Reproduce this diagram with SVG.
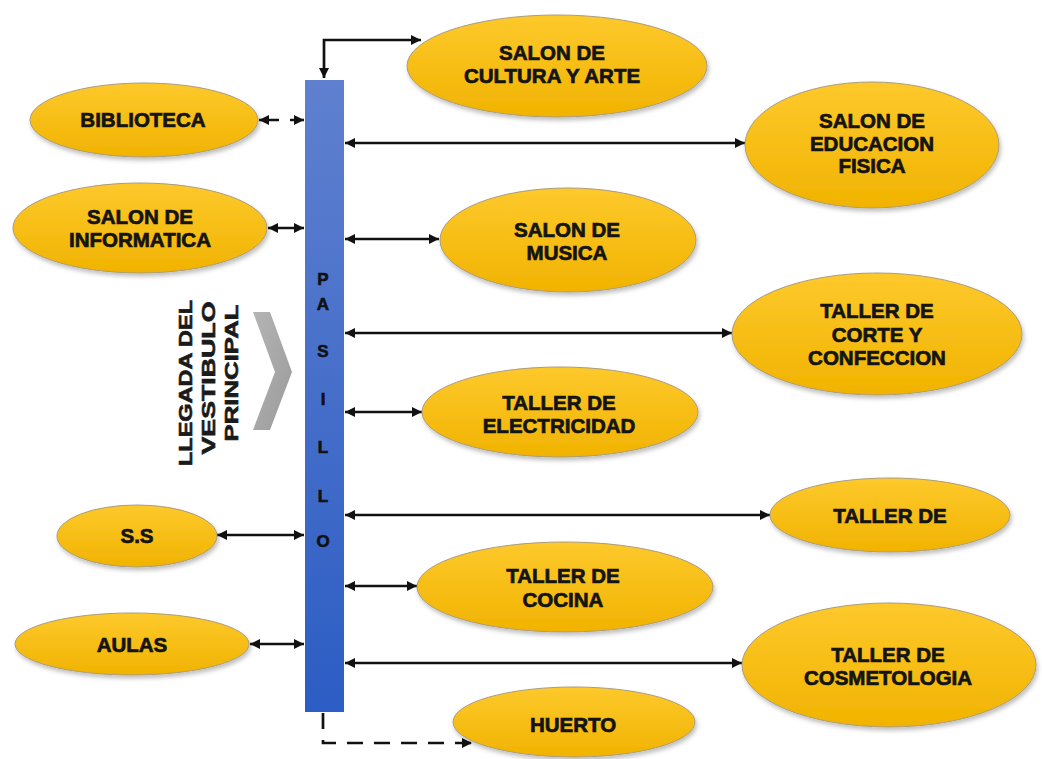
<svg xmlns="http://www.w3.org/2000/svg" width="1042" height="759" viewBox="0 0 1042 759">
<defs>
<linearGradient id="gold" x1="0" y1="0" x2="0" y2="1">
<stop offset="0" stop-color="#fdc92c"/>
<stop offset="1" stop-color="#f1b300"/>
</linearGradient>
<linearGradient id="bar" x1="0" y1="0" x2="0" y2="1">
<stop offset="0" stop-color="#5f80cf"/>
<stop offset="1" stop-color="#2c5dc4"/>
</linearGradient>
<linearGradient id="chev" x1="0" y1="0" x2="1" y2="1">
<stop offset="0" stop-color="#b5b5b5"/>
<stop offset="1" stop-color="#9a9a9a"/>
</linearGradient>
<filter id="sh" x="-10%" y="-10%" width="120%" height="130%">
<feDropShadow dx="1.5" dy="3" stdDeviation="2" flood-color="#000" flood-opacity="0.25"/>
</filter>
<marker id="ah" viewBox="0 0 10 10" markerUnits="userSpaceOnUse" markerWidth="11" markerHeight="10" refX="10" refY="5" orient="auto-start-reverse">
<path d="M0,0 L10,5 L0,10 z" fill="#111"/>
</marker>
</defs>
<style>
.node ellipse{fill:url(#gold);stroke:#a99c80;stroke-width:1;filter:url(#sh)}
.node text{font-family:"Liberation Sans",Arial,sans-serif;font-weight:bold;font-size:20.5px;fill:#141414;stroke:#141414;stroke-width:0.7;text-anchor:middle}
.pl{font-family:"Liberation Sans",Arial,sans-serif;font-weight:bold;font-size:17px;fill:#111;stroke:#111;stroke-width:0.6;text-anchor:middle}
.rot{font-family:"Liberation Sans",Arial,sans-serif;font-weight:bold;font-size:18px;fill:#1a1a1a;stroke:#1a1a1a;stroke-width:0.6;text-anchor:middle}
.c{stroke:#111;stroke-width:2.7;fill:none}
.d{stroke-dasharray:20 11}
</style>
<rect width="1042" height="759" fill="#fff"/>

<g id="pasillo">
<rect x="305" y="80" width="39" height="632" fill="url(#bar)"/>
<text class="pl" x="323" y="285">P</text>
<text class="pl" x="323" y="310">A</text>
<text class="pl" x="323" y="357">S</text>
<text class="pl" x="323" y="405">I</text>
<text class="pl" x="323" y="453">L</text>
<text class="pl" x="323" y="502">L</text>
<text class="pl" x="323" y="547">O</text>
</g>

<g id="llegada">
<polygon points="253,312 270,312 292,372 270,430 253,430 275,372" fill="url(#chev)"/>
<text class="rot" transform="translate(192,383) rotate(-90)" textLength="166" lengthAdjust="spacingAndGlyphs">LLEGADA DEL</text>
<text class="rot" transform="translate(215,378) rotate(-90)" textLength="153" lengthAdjust="spacingAndGlyphs">VESTIBULO</text>
<text class="rot" transform="translate(238,373) rotate(-90)" textLength="137" lengthAdjust="spacingAndGlyphs">PRINCIPAL</text>
</g>

<g id="connectors">
<path class="c" d="M324,78 L324,40 L421,40" marker-start="url(#ah)" marker-end="url(#ah)"/>
<path class="c d" d="M259,120 L304,120" marker-start="url(#ah)" marker-end="url(#ah)"/>
<path class="c" d="M345,143 L745,143" marker-start="url(#ah)" marker-end="url(#ah)"/>
<path class="c" d="M268,228 L304,228" marker-start="url(#ah)" marker-end="url(#ah)"/>
<path class="c" d="M345,239 L439,239" marker-start="url(#ah)" marker-end="url(#ah)"/>
<path class="c" d="M345,333 L732,333" marker-start="url(#ah)" marker-end="url(#ah)"/>
<path class="c" d="M345,412 L422,412" marker-start="url(#ah)" marker-end="url(#ah)"/>
<path class="c" d="M345,515 L770,515" marker-start="url(#ah)" marker-end="url(#ah)"/>
<path class="c" d="M217,535 L304,535" marker-start="url(#ah)" marker-end="url(#ah)"/>
<path class="c" d="M345,586 L417,586" marker-start="url(#ah)" marker-end="url(#ah)"/>
<path class="c" d="M250,644 L304,644" marker-start="url(#ah)" marker-end="url(#ah)"/>
<path class="c" d="M345,663 L742,663" marker-start="url(#ah)" marker-end="url(#ah)"/>
<path class="c" d="M323,713 L323,743 L472,743" stroke-dasharray="16 11" marker-end="url(#ah)"/>
</g>

<g id="n-cultura" class="node">
<ellipse cx="557" cy="66" rx="150" ry="51"/>
<text x="552" y="60">SALON DE</text>
<text x="552" y="83">CULTURA Y ARTE</text>
</g>
<g id="n-biblioteca" class="node">
<ellipse cx="144" cy="120" rx="114" ry="37"/>
<text x="143" y="127">BIBLIOTECA</text>
</g>
<g id="n-educacion" class="node">
<ellipse cx="872" cy="145" rx="127" ry="63"/>
<text x="872" y="128">SALON DE</text>
<text x="872" y="151">EDUCACION</text>
<text x="872" y="173">FISICA</text>
</g>
<g id="n-informatica" class="node">
<ellipse cx="140" cy="228" rx="127" ry="45"/>
<text x="140" y="224">SALON DE</text>
<text x="140" y="247">INFORMATICA</text>
</g>
<g id="n-musica" class="node">
<ellipse cx="568" cy="240" rx="128" ry="52"/>
<text x="567" y="237">SALON DE</text>
<text x="567" y="260">MUSICA</text>
</g>
<g id="n-corte" class="node">
<ellipse cx="877" cy="334" rx="145" ry="61"/>
<text x="877" y="318">TALLER DE</text>
<text x="877" y="342">CORTE Y</text>
<text x="877" y="365">CONFECCION</text>
</g>
<g id="n-electricidad" class="node">
<ellipse cx="560" cy="412" rx="138" ry="45"/>
<text x="559" y="410">TALLER DE</text>
<text x="559" y="433">ELECTRICIDAD</text>
</g>
<g id="n-taller" class="node">
<ellipse cx="890" cy="515" rx="120" ry="37"/>
<text x="890" y="523">TALLER DE</text>
</g>
<g id="n-ss" class="node">
<ellipse cx="137" cy="536" rx="80" ry="31"/>
<text x="137" y="543">S.S</text>
</g>
<g id="n-cocina" class="node">
<ellipse cx="565" cy="587" rx="148" ry="45"/>
<text x="563" y="583">TALLER DE</text>
<text x="563" y="607">COCINA</text>
</g>
<g id="n-aulas" class="node">
<ellipse cx="132" cy="644" rx="117" ry="31"/>
<text x="132" y="652">AULAS</text>
</g>
<g id="n-cosmetologia" class="node">
<ellipse cx="889" cy="665" rx="147" ry="62"/>
<text x="888" y="662">TALLER DE</text>
<text x="888" y="685">COSMETOLOGIA</text>
</g>
<g id="n-huerto" class="node">
<ellipse cx="574" cy="722" rx="121" ry="35"/>
<text x="573" y="732">HUERTO</text>
</g>
</svg>
